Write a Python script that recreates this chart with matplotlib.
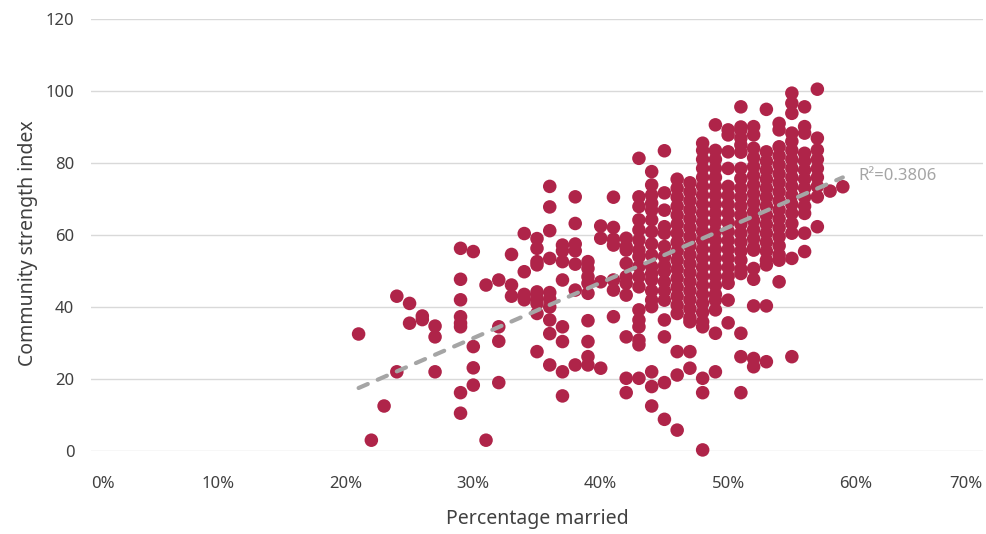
import matplotlib
matplotlib.use("Agg")
import matplotlib.pyplot as plt
import numpy as np

plt.rcParams['font.family'] = ['Noto Sans', 'DejaVu Sans']

# percentage married (x columns) and community strength index values in each column
pct_married = [21, 22, 23, 24, 25, 26, 27, 29, 30, 31, 32, 33, 34, 35, 36, 37, 38, 39, 40,
               41, 42, 43, 44, 45, 46, 47, 48, 49, 50, 51, 52, 53, 54, 55, 56, 57, 58, 59]
strength = [
    [32.5],
    [3],
    [12.5],
    [43, 22],
    [41, 35.5],
    [37.5, 36.5],
    [34.7, 31.7, 22],
    [56.3, 47.7, 42, 37.3, 35.5, 34.5, 16.2, 10.5],
    [55.4, 29, 23.1, 18.3],
    [46.1, 3],
    [47.5, 34.5, 30.5, 19],
    [54.6, 46.1, 43],
    [60.4, 49.8, 43.5, 42],
    [59, 56.3, 52.6, 51.7, 44.2, 42.5, 41, 38.2, 27.6],
    [73.5, 67.8, 61.2, 53.5, 44, 42.2, 40, 36.4, 32.6, 23.9],
    [57.2, 55.6, 52.6, 47.5, 34.5, 30.4, 22, 15.3],
    [70.6, 63.2, 57.5, 55.6, 51.9, 44.7, 23.9],
    [52.6, 50.7, 48.4, 46.6, 43.8, 36.2, 30.4, 26.2, 23.9],
    [62.5, 59.1, 47, 23],
    [70.5, 62.1, 58.8, 57.2, 47.5, 44.7, 37.3],
    [59.1, 56.8, 55.8, 52.1, 48.4, 46.6, 43.3, 31.7, 20.2, 16.2],
    [81.3, 70.6, 67.9, 64.2, 61.4, 58.6, 55.8, 54, 51.2, 48.4, 45.6, 39.2, 36.4, 34.5, 30.8, 29.5, 20.2],
    [77.6, 73.9, 71.1, 68.8, 66.9, 64.2, 60.9, 57.5, 54.4, 51.2, 49.3, 47.5, 44.5, 41.9, 40.1, 22, 17.9, 12.5],
    [83.4, 71.7, 66.9, 62.3, 60.5, 56.8, 54, 51.5, 49.8, 47, 44.5, 41.9, 36.4, 31.7, 19, 8.8],
    [75.5, 73, 70.5, 68, 65.5, 63, 60.5, 58, 55.5, 53, 50.5, 48, 45.5, 43, 40.5, 38.2, 27.6, 21.1, 5.8],
    [74.5, 72, 69.5, 67, 64.5, 62, 59.5, 57, 54.5, 52, 49.5, 47, 44.5, 42, 39.5, 37, 35.9, 27.6, 23],
    [85.5, 83.5, 81, 78.5, 76, 73.5, 71, 68.5, 66, 63.5, 61, 58.5, 56, 53.5, 51, 48.5, 46, 43.5, 41,
     38.5, 35.9, 34.5, 20.2, 16.2, 0.3],
    [90.6, 83.5, 81, 78.5, 76, 73.5, 71, 68.5, 66, 63.5, 61, 58.5, 56, 53.5, 51, 48.5, 46, 43.5, 41.9,
     39.2, 32.7, 22],
    [89.2, 87.8, 83.1, 78.5, 73.5, 71, 68.5, 66, 63.5, 61, 58.5, 56, 53.5, 51, 48.5, 46.6, 41.9, 35.6],
    [95.6, 90, 89.2, 86.9, 85, 83, 78.5, 75.7, 73, 70.5, 68, 65.5, 63, 60.5, 58, 55.5, 53, 50.5, 49.3,
     32.7, 26.2, 16.2],
    [90.1, 87.8, 84.1, 81.5, 79, 76.5, 74, 71.5, 69, 66.5, 64, 61.5, 59, 56.5, 55.8, 50.7, 47.7, 40.3,
     25.7, 23.4],
    [94.9, 83.1, 80.5, 78, 75.5, 73, 70.5, 68, 65.5, 63, 60.5, 58, 55.5, 53, 51.7, 40.3, 24.8],
    [91, 89.2, 84.5, 82, 79.5, 77, 74.5, 72, 69.5, 67, 64.5, 62, 59.5, 57, 54.5, 53, 47],
    [99.4, 96.6, 93.8, 88.3, 86, 83.5, 81, 78.5, 76, 73.5, 71, 68.5, 66, 63.2, 60.5, 53.5, 26.2],
    [95.6, 90.1, 88.3, 82.7, 80.5, 78, 75.5, 73, 70.5, 68, 66, 60.5, 55.4],
    [100.5, 86.9, 83.6, 81, 78.5, 76, 73.5, 70.6, 62.3],
    [72.2],
    [73.4],
]
# linear trend line as shown on the chart (end points) and its label
trend_pct = [21, 59]
trend_val = [17.5, 76.0]
r2_label = "R\u00b2=0.3806"

x = np.concatenate([[p] * len(v) for p, v in zip(pct_married, strength)]).astype(float)
y = np.concatenate(strength).astype(float)

fig = plt.figure(figsize=(9.86, 5.34), dpi=100)
ax = fig.add_axes([91 / 986, 83 / 534, 892 / 986, 432 / 534])

txt = '#404040'
ax.scatter(x, y, s=95, color='#AF2449', edgecolors='none', zorder=3, clip_on=False)

ax.plot(trend_pct, trend_val, color='#A5A5A5', lw=3, dashes=(2.4, 2.6),
        dash_capstyle='round', zorder=4)
ax.annotate(r2_label, xy=(trend_pct[1], trend_val[1]), xytext=(11, 1), textcoords='offset points',
            va='center', ha='left', color='#A5A5A5', fontsize=12)

ax.set_xlim(0, 70)
ax.set_ylim(0, 120)
ax.set_yticks(np.arange(0, 121, 20))
xt = np.arange(0, 71, 10)
ax.set_xticks(xt)
ax.set_xticklabels([f"{v}%" for v in xt])
ax.xaxis.get_majorticklabels()[0].set_ha('left')
ax.xaxis.get_majorticklabels()[-1].set_ha('right')

ax.grid(axis='y', color='#D9D9D9', lw=1)
ax.set_axisbelow(True)
for s in ax.spines.values():
    s.set_visible(False)
ax.tick_params(length=0, labelsize=12, colors=txt)
ax.tick_params(axis='x', pad=18)
ax.tick_params(axis='y', pad=12)

ax.set_xlabel('Percentage married', fontsize=14, color=txt)
ax.xaxis.set_label_coords(0.5, -0.158)
ax.xaxis.label.set_va('center')
ax.set_ylabel('Community strength index', fontsize=14, color=txt)
ax.yaxis.set_label_coords(-0.0706, 0.48)
ax.yaxis.label.set_va('center')

fig.savefig('out.png', dpi=100)
